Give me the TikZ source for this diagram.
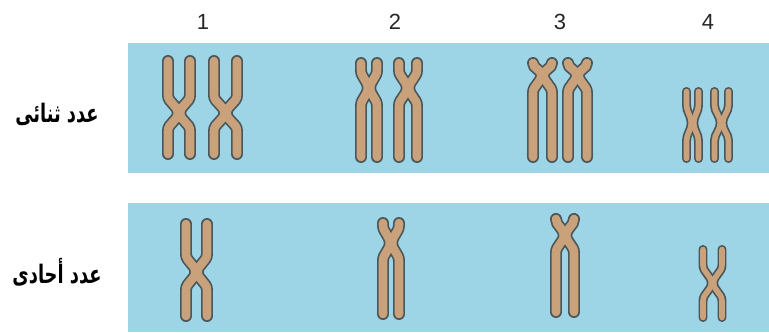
\documentclass[tikz,border=0pt]{standalone}
\usepackage{fontspec}
\setsansfont{Liberation Sans}
\newfontfamily\arabicfont[Script=Arabic, FakeStretch=0.7]{DejaVu Sans}
\TeXXeTstate=1
\usepackage{xcolor}
\usepackage{tikz}
\definecolor{panelblue}{HTML}{9DD4E6}
\definecolor{chromofill}{HTML}{C9A27C}
\definecolor{chromoline}{HTML}{4A5659}
\tikzset{
  panel/.style={fill=panelblue, draw=none},
  numlbl/.style={font=\sffamily\fontsize{12.5}{14}\selectfont, text=black!85, inner sep=1pt},
  rowlbl/.style={font=\arabicfont\bfseries\fontsize{14.5}{17}\selectfont, inner sep=1pt}
}
% \chromo[width]{x}{top}{centromere}{bottom}{spread}
\newcommand\chromo[6][12]{%
  \foreach \lw/\col in {#1/chromoline,#1-3.4/chromofill}{
    \foreach \side in {-1,1}{
      \draw[line cap=round, color=\col, line width={(\lw)*0.567pt}]
        ({#2+\side*#6},#3) -- ({#2+\side*#6},{max(#3,#4-18)})
        to[out=-90,in=90] ({#2+\side*1.2},#4)
        to[out=-90,in=90] ({#2+\side*#6},{min(#5,#4+18)}) -- ({#2+\side*#6},#5);
    }
  }%
}

\begin{document}
\begin{tikzpicture}[x=0.02cm, y=-0.02cm]
  \useasboundingbox (0,0) rectangle (769,332);
  \fill[panel] (128,43) rectangle (769,173);
  \fill[panel] (128,203) rectangle (769,332);

  \node[numlbl] (n1) at (203,22) {1};
  \node[numlbl] (n2) at (395,22) {2};
  \node[numlbl] (n3) at (560,22) {3};
  \node[numlbl] (n4) at (708,22) {4};

  \node[rowlbl] (diploid) at (57,114) {\beginR عدد ثنائى\endR};
  \node[rowlbl] (haploid) at (57,272) {\beginR عدد أحادى\endR};

  \chromo{179}{61}{113}{154}{11}
  \chromo{225.5}{61}{113}{154}{11.5}
  \chromo{369}{63}{88}{157}{8}
  \chromo{408}{63}{88}{157}{9}
  \chromo{542.5}{63}{75}{157}{9.5}
  \chromo{577.5}{63}{75}{157}{9.5}
  \chromo[9]{692.5}{91.5}{123}{158.5}{6}
  \chromo[9]{721.5}{91.5}{123}{158.5}{7}

  \chromo{196.5}{224}{272}{316}{10.5}
  \chromo{391}{223}{243}{314}{8}
  \chromo{565}{219}{235}{312}{9}
  \chromo[9]{712.5}{249.5}{283}{317.5}{9.5}
\end{tikzpicture}
\end{document}
